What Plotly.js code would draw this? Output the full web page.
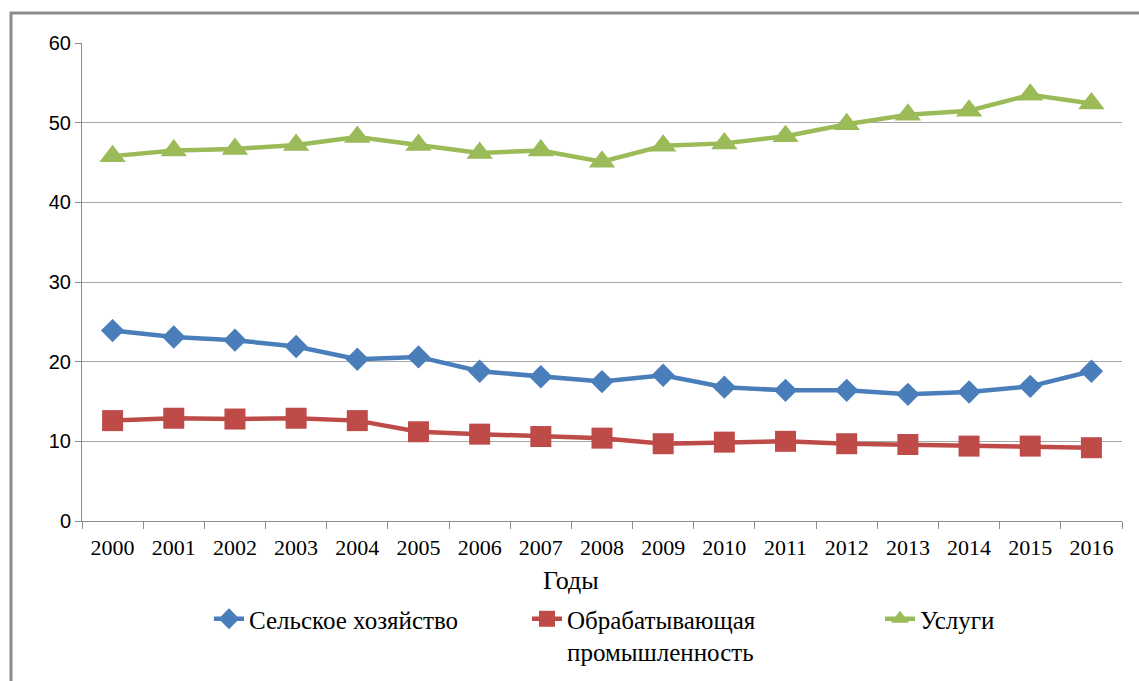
<!DOCTYPE html>
<html>
<head>
<meta charset="utf-8">
<script src="https://cdn.plot.ly/plotly-3.0.1.min.js"></script>
<style>
  html, body { margin: 0; padding: 0; background: #ffffff; }
  #chart { width: 1139px; height: 681px; }
</style>
</head>
<body>
<div id="chart"></div>
<script>
// ---- Data ----
const years = ["2000","2001","2002","2003","2004","2005","2006","2007","2008",
               "2009","2010","2011","2012","2013","2014","2015","2016"];
const agriculture = [23.9, 23.1, 22.7, 21.9, 20.3, 20.6, 18.8, 18.1, 17.5,
                     18.3, 16.8, 16.4, 16.4, 15.9, 16.2, 16.9, 18.8];
const manufacturing = [12.6, 12.9, 12.8, 12.9, 12.6, 11.2, 10.9, 10.6, 10.4,
                       9.7, 9.9, 10.0, 9.7, 9.6, 9.4, 9.4, 9.2];
const services = [45.8, 46.5, 46.7, 47.2, 48.2, 47.2, 46.2, 46.5, 45.1,
                  47.1, 47.4, 48.3, 49.8, 51.0, 51.5, 53.5, 52.4];
const seriesNames = ["Сельское хозяйство", "Обрабатывающая<br>промышленность", "Услуги"];
const xTitle = "Годы";

const blue = "#4a7ebb", red = "#be4b48", green = "#9bbb59";
const serif = "Liberation Serif, Times New Roman, serif";
const sans = "Liberation Sans, Arial, sans-serif";

const traces = [
  {x: years, y: agriculture, name: seriesNames[0], type: "scatter", mode: "lines+markers",
   line: {color: blue, width: 4.5}, marker: {symbol: "diamond", size: 18, color: blue},
   legend: "legend"},
  {x: years, y: manufacturing, name: seriesNames[1], type: "scatter", mode: "lines+markers",
   line: {color: red, width: 4.5}, marker: {symbol: "square", size: 21, color: red},
   legend: "legend2"},
  {x: years, y: services, name: seriesNames[2], type: "scatter", mode: "lines+markers",
   line: {color: green, width: 4.5}, marker: {symbol: "triangle-up", size: 23, color: green},
   legend: "legend3"}
];

const legendCommon = {orientation: "h", xanchor: "left", yanchor: "top",
  xref: "container", yref: "container",
  font: {family: serif, size: 25, color: "#000"}, bgcolor: "rgba(0,0,0,0)",
  itemclick: false, itemdoubleclick: false, valign: "top"};

const legY = 1 - 596 / 681;

const layout = {
  width: 1139, height: 681,
  margin: {l: 82, r: 17, t: 43, b: 160, autoexpand: false},
  paper_bgcolor: "#ffffff", plot_bgcolor: "#ffffff",
  showlegend: true,
  xaxis: {
    type: "category", range: [-0.5, 16.5], tickson: "boundaries", ticks: "outside", ticklen: 7,
    tickcolor: "#8c8c8c", tickwidth: 1, showline: true, linecolor: "#8c8c8c", linewidth: 1,
    showgrid: false, zeroline: false, ticklabelstandoff: 7, automargin: false,
    tickfont: {family: serif, size: 22, color: "#000"}, fixedrange: true
  },
  yaxis: {
    range: [0, 60], dtick: 10, tick0: 0, ticks: "outside", ticklen: 6,
    tickcolor: "#8c8c8c", showline: true, linecolor: "#8c8c8c", linewidth: 1,
    showgrid: true, gridcolor: "#a6a6a6", gridwidth: 1, zeroline: false, automargin: false,
    tickfont: {family: sans, size: 20, color: "#000"}, fixedrange: true
  },
  legend: Object.assign({}, legendCommon, {x: 209 / 1139, y: legY}),
  legend2: Object.assign({}, legendCommon, {x: 527 / 1139, y: legY}),
  legend3: Object.assign({}, legendCommon, {x: 880 / 1139, y: legY}),
  annotations: [{
    text: xTitle, xref: "paper", yref: "paper",
    x: (571 - 82) / 1040, y: (521 - 580) / 478, xanchor: "center", yanchor: "middle",
    showarrow: false, font: {family: serif, size: 26, color: "#000"}
  }],
  shapes: [{
    type: "rect", xref: "paper", yref: "paper",
    x0: (11 - 82) / 1040, x1: (1160 - 82) / 1040,
    y0: (521 - 720) / 478, y1: (521 - 13) / 478,
    line: {color: "#8c8c8c", width: 3}, fillcolor: "rgba(0,0,0,0)", layer: "below"
  }]
};

Plotly.newPlot("chart", traces, layout, {displayModeBar: false, staticPlot: true});
</script>
</body>
</html>
